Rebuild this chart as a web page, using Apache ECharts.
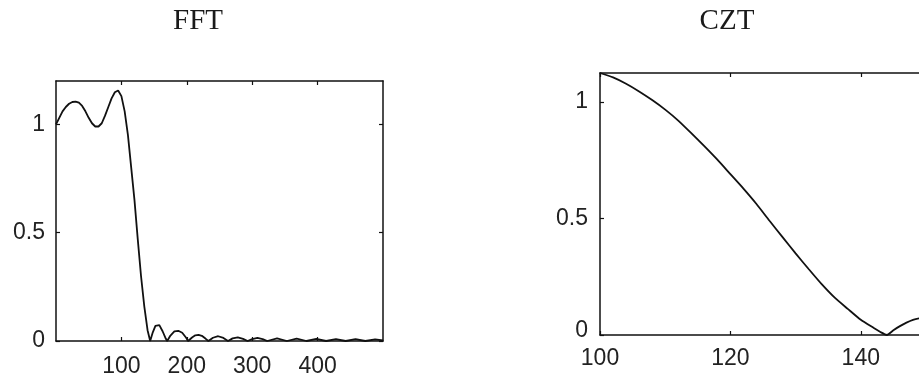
<!DOCTYPE html>
<html>
<head>
<meta charset="utf-8">
<script src="https://cdn.jsdelivr.net/npm/echarts@6/dist/echarts.min.js"></script>
<style>
  html, body { margin: 0; padding: 0; background: #ffffff; }
  #chart { width: 919px; height: 383px; }
</style>
</head>
<body>
<div id="chart"></div>
<script>
// FFT magnitude of the lowpass filter, 0–500 Hz
const fftFreq = [0, 5, 10, 15, 20, 25, 30, 35, 40, 45, 50, 55, 60, 65, 70, 75, 80, 85, 90, 95,
  100, 105, 110, 115, 120, 125, 130, 135, 140, 144,
  148, 152, 155, 158, 163, 168, 170, 175, 181, 187, 193, 199, 202, 208, 213, 218, 223, 229, 233,
  240, 248, 256, 263, 270, 278, 286, 293, 300, 308, 316, 323, 338, 353, 368, 383, 398, 413,
  428, 443, 458, 473, 488, 500];
const fftMag = [1.00, 1.03, 1.06, 1.08, 1.095, 1.103, 1.105, 1.10, 1.085, 1.06, 1.03, 1.005, 0.99, 0.99, 1.005, 1.04, 1.08, 1.12, 1.148, 1.156,
  1.13, 1.06, 0.95, 0.80, 0.65, 0.47, 0.30, 0.16, 0.05, 0.0,
  0.04, 0.07, 0.078, 0.073, 0.045, 0.01, 0.0, 0.025, 0.044, 0.047, 0.038, 0.015, 0.0, 0.016, 0.026, 0.028, 0.024, 0.01, 0.0,
  0.015, 0.022, 0.014, 0.0, 0.012, 0.017, 0.01, 0.0, 0.009, 0.014, 0.009, 0.0, 0.012, 0.0, 0.011, 0.0, 0.01, 0.0,
  0.009, 0.0, 0.009, 0.0, 0.008, 0.003];

// Chirp z-transform zoom of the same response, 100–150 Hz
const cztFreq = [100, 102, 104, 106, 108, 110, 112, 114, 116, 118, 120, 122, 124, 126, 128, 130,
  132, 134, 136, 138, 140, 142, 143, 144, 145, 146, 147, 148, 149, 150];
const cztMag = [1.124, 1.105, 1.078, 1.045, 1.008, 0.967, 0.92, 0.866, 0.81, 0.752, 0.69, 0.628, 0.562, 0.49, 0.42, 0.35,
  0.283, 0.218, 0.16, 0.112, 0.065, 0.03, 0.013, 0.0, 0.02, 0.038, 0.053, 0.065, 0.072, 0.076];

// Tick positions
const fftXTicks = [100, 200, 300, 400];
const fftYTicks = [0, 0.5, 1];
const cztXTicks = [100, 120, 140];
const cztYTicks = [0, 0.5, 1];

const titles = ['FFT', 'CZT'];

const ink = '#111';
const labelFont = { fontFamily: 'Liberation Sans', fontSize: 23, color: '#222' };
const tickStyle = { color: ink, width: 1.2 };

// A value axis drawn as one side of a closed box with inward ticks
function boxAxis(extra, ticks) {
  return Object.assign({
    type: 'value',
    axisLine: { show: true, onZero: false, lineStyle: { color: ink, width: 1.5 } },
    axisTick: ticks
      ? { show: true, inside: true, length: 4, lineStyle: tickStyle, customValues: ticks }
      : { show: false },
    splitLine: { show: false },
    axisLabel: { show: false }
  }, extra);
}

function withLabels(axis, ticks, margin, extraLabel) {
  axis.axisLabel = Object.assign({ show: true, customValues: ticks, margin: margin }, labelFont, extraLabel || {});
  return axis;
}

const zip = (xs, ys) => xs.map((x, i) => [x, ys[i]]);

const chart = echarts.init(document.getElementById('chart'), null, { renderer: 'canvas' });

chart.setOption({
  animation: false,
  backgroundColor: '#ffffff',
  grid: [
    { left: 56, width: 327, top: 81, height: 260, outerBoundsMode: 'none', containLabel: false },
    // the zoomed panel runs on past the right edge of the page
    { left: 600, width: 326, top: 73, height: 262, outerBoundsMode: 'none', containLabel: false }
  ],
  xAxis: [
    withLabels(boxAxis({ gridIndex: 0, position: 'bottom', min: 0, max: 500 }, fftXTicks), fftXTicks, 14),
    boxAxis({ gridIndex: 0, position: 'top', min: 0, max: 500 }, fftXTicks),
    withLabels(boxAxis({ gridIndex: 1, position: 'bottom', min: 100, max: 150 }, cztXTicks), cztXTicks, 12),
    boxAxis({ gridIndex: 1, position: 'top', min: 100, max: 150 }, cztXTicks)
  ],
  yAxis: [
    withLabels(boxAxis({ gridIndex: 0, position: 'left', min: 0, max: 1.2 }, fftYTicks), fftYTicks, 11),
    boxAxis({ gridIndex: 0, position: 'right', min: 0, max: 1.2 }, fftYTicks),
    withLabels(boxAxis({ gridIndex: 1, position: 'left', min: 0, max: 1.124 }, cztYTicks), cztYTicks, 12, {
      formatter: v => (v === 0 ? '{lift|0}' : String(v)),
      rich: { lift: { fontFamily: 'Liberation Sans', fontSize: 23, color: '#222', padding: [0, 0, 8, 0] } }
    }),
    boxAxis({ gridIndex: 1, position: 'right', min: 0, max: 1.124 }, cztYTicks)
  ],
  graphic: [
    { type: 'text', x: 198, y: 21, style: { text: titles[0], font: '29px "Liberation Serif"', fill: '#1a1a1a', textAlign: 'center', textVerticalAlign: 'middle' } },
    { type: 'text', x: 727, y: 21, style: { text: titles[1], font: '29px "Liberation Serif"', fill: '#1a1a1a', textAlign: 'center', textVerticalAlign: 'middle' } }
  ],
  series: [
    {
      type: 'line', xAxisIndex: 0, yAxisIndex: 0, data: zip(fftFreq, fftMag),
      showSymbol: false, lineStyle: { color: ink, width: 1.8 }
    },
    {
      type: 'line', xAxisIndex: 2, yAxisIndex: 2, data: zip(cztFreq, cztMag),
      showSymbol: false, smooth: 0.2, lineStyle: { color: ink, width: 1.8 }
    }
  ]
});
</script>
</body>
</html>
